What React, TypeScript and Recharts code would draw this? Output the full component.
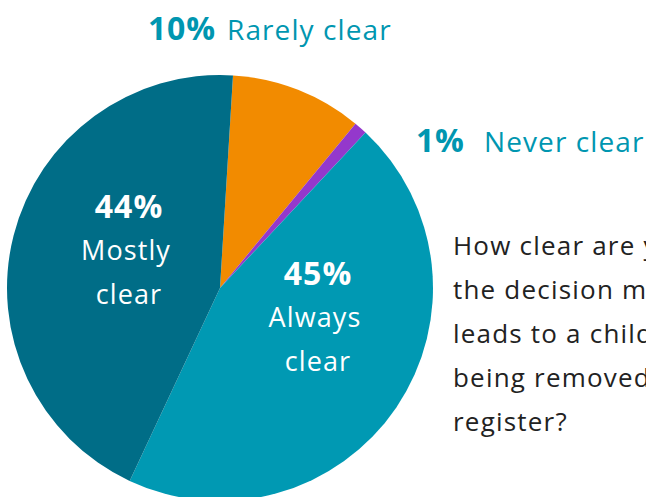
import { PieChart, Pie, Cell } from 'recharts'

// slices, clockwise from just right of 12 o'clock
const categories = ['Rarely clear', 'Never clear', 'Always clear', 'Mostly clear']
const shares = [10, 1, 45, 44]
const sliceColors = ['#f28b00', '#9438cc', '#0099b3', '#006d87']

const questionLines = [
  'How clear are you on',
  'the decision making that',
  'leads to a child',
  'being removed from the',
  'register?',
]

const data = categories.map((name, i) => ({ name, value: shares[i] }))

const FONT = '"Open Sans", Lato, sans-serif'
const TEAL_TEXT = '#0096b0'

// label placement relative to the pie centre
const outsideLabels: Record<string, { px: number; nx: number; dy: number }> = {
  'Rarely clear': { px: -72, nx: 7, dy: -248 },
  'Never clear': { px: 196, nx: 264, dy: -136 },
}
const insideLabels: Record<string, { dx: number; dy: number }> = {
  'Always clear': { dx: 98, dy: -3 },
  'Mostly clear': { dx: -91, dy: -70 },
}

function renderLabel(props: any) {
  const { cx, cy, name, value } = props
  const out = outsideLabels[name]
  if (out) {
    return (
      <g key={name}>
        <text x={cx + out.px} y={cy + out.dy} fill={TEAL_TEXT} fontSize={32} fontWeight={700} fontFamily={FONT} letterSpacing={0.8}>
          {value}%
        </text>
        <text x={cx + out.nx} y={cy + out.dy} fill={TEAL_TEXT} fontSize={28} fontFamily={FONT} letterSpacing={1.1}>
          {name}
        </text>
      </g>
    )
  }
  const ins = insideLabels[name]
  if (!ins) return null
  const [first, second] = name.split(' ')
  const x = cx + ins.dx
  const y = cy + ins.dy
  return (
    <g key={name} fill="#fff" fontFamily={FONT} textAnchor="middle" letterSpacing={1.1}>
      <text x={x} y={y} fontSize={32} fontWeight={700}>{value}%</text>
      <text x={x - 3} y={y + 42} fontSize={27}>{first}</text>
      <text x={x} y={y + 86} fontSize={27}>{second}</text>
    </g>
  )
}

export default function App() {
  return (
    <div style={{ position: 'relative', width: 646, height: 497, overflow: 'hidden', background: '#fff' }}>
      <style>{'body{margin:0}'}</style>
      <PieChart width={646} height={497} margin={{ top: 0, right: 0, bottom: 0, left: 0 }}>
        <Pie
          data={data}
          dataKey="value"
          nameKey="name"
          cx={220}
          cy={288}
          outerRadius={213}
          startAngle={86.5}
          endAngle={-273.5}
          stroke="none"
          label={renderLabel}
          labelLine={false}
          isAnimationActive={false}
        >
          {data.map((d, i) => (
            <Cell key={d.name} fill={sliceColors[i]} />
          ))}
        </Pie>
      </PieChart>
      <div
        style={{
          position: 'absolute',
          left: 453,
          top: 223,
          fontFamily: FONT,
          fontSize: 26,
          lineHeight: '44px',
          color: '#222',
          whiteSpace: 'nowrap',
          letterSpacing: 1.2,
        }}
      >
        {questionLines.map((l) => (
          <div key={l}>{l}</div>
        ))}
      </div>
    </div>
  )
}
